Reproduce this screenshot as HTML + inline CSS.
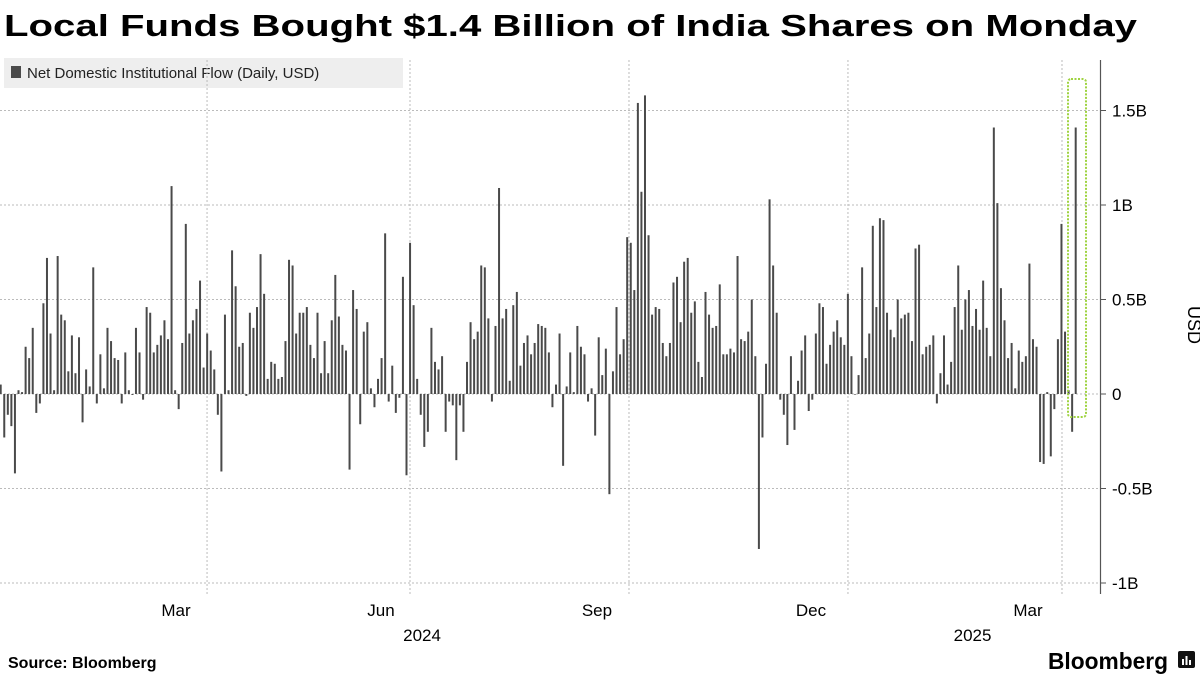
<!DOCTYPE html>
<html><head><meta charset="utf-8"><style>
body{margin:0;background:#fff;width:1200px;height:675px;overflow:hidden;font-family:"Liberation Sans",sans-serif}
svg{position:absolute;left:0;top:0}
</style></head><body>
<svg id="chart" width="1200" height="675">
<text x="4" y="36" font-size="31" font-weight="bold" fill="#000" textLength="1133" lengthAdjust="spacingAndGlyphs">Local Funds Bought $1.4 Billion of India Shares on Monday</text>
<g>
<rect x="4" y="58" width="399" height="30" fill="#eeeeee"/>
<rect x="11" y="66" width="10" height="12" fill="#4a4a4a"/>
<text x="27" y="78" font-size="15" fill="#222">Net Domestic Institutional Flow (Daily, USD)</text>
</g>
<g id="grid"></g>
<g id="bars"></g>
<g id="axis"></g>
<rect x="1068" y="79" width="18" height="338" rx="3" fill="none" stroke="#9fd341" stroke-width="2" stroke-dasharray="2,1.5"/>
<text x="1188" y="325" font-size="18" fill="#000" text-anchor="middle" transform="rotate(90 1188 325)">USD</text>
<text x="8" y="668" font-size="16" font-weight="bold" fill="#000">Source: Bloomberg</text>
<text x="1048" y="669" font-size="23" font-weight="bold" fill="#000" textLength="120" lengthAdjust="spacingAndGlyphs">Bloomberg</text>
<g><rect x="1178" y="651" width="17" height="17" rx="2" fill="#111"/><rect x="1182" y="659" width="2" height="6" fill="#fff"/><rect x="1185.5" y="656" width="2" height="9" fill="#fff"/><rect x="1189" y="660" width="2" height="5" fill="#fff"/></g>
</svg>
<script>
const values=[0.05,-0.23,-0.11,-0.17,-0.42,0.02,0.01,0.25,0.19,0.35,-0.10,-0.05,0.48,0.72,0.32,0.02,0.73,0.42,0.39,0.12,0.31,0.11,0.30,-0.15,0.13,0.04,0.67,-0.05,0.21,0.03,0.35,0.28,0.19,0.18,-0.05,0.22,0.02,-0.005,0.35,0.22,-0.03,0.46,0.43,0.22,0.26,0.31,0.39,0.29,1.10,0.02,-0.08,
0.27,0.90,0.32,0.39,0.45,0.60,0.14,0.32,0.23,0.13,-0.11,-0.41,0.42,0.02,0.76,0.57,0.25,0.27,-0.01,0.43,0.35,0.46,0.74,0.53,0.08,0.17,0.16,0.08,0.09,0.28,0.71,0.68,0.32,0.43,0.43,0.46,0.26,0.19,0.43,0.11,0.28,0.11,0.39,0.63,0.41,0.26,0.23,-0.40,0.55,
0.45,-0.16,0.33,0.38,0.03,-0.07,0.08,0.19,0.85,-0.04,0.15,-0.10,-0.02,0.62,-0.43,0.80,0.47,0.08,-0.11,-0.28,-0.20,0.35,0.17,0.13,0.20,-0.20,-0.04,-0.06,-0.35,-0.06,-0.20,0.17,0.38,0.29,0.33,0.68,0.67,0.40,-0.04,0.36,1.09,0.40,0.45,0.07,0.47,0.54,0.15,0.27,0.31,
0.21,0.27,0.37,0.36,0.35,0.22,-0.07,0.05,0.32,-0.38,0.04,0.22,0.01,0.36,0.25,0.21,-0.04,0.03,-0.22,0.30,0.10,0.24,-0.53,0.12,0.46,0.21,0.29,0.83,0.80,0.55,1.54,1.07,1.58,0.84,0.42,0.46,0.45,0.27,0.20,0.27,0.59,0.62,0.38,0.70,0.72,0.43,0.49,0.17,0.09,
0.54,0.42,0.35,0.36,0.58,0.21,0.21,0.24,0.22,0.73,0.29,0.28,0.33,0.50,0.20,-0.82,-0.23,0.16,1.03,0.68,0.43,-0.03,-0.11,-0.27,0.20,-0.19,0.07,0.23,0.31,-0.09,-0.03,0.32,0.48,0.46,0.16,0.26,0.33,0.39,0.30,0.26,0.53,0.20,0.00,0.10,0.67,0.19,0.32,0.89,0.46,0.93,
0.92,0.43,0.34,0.30,0.50,0.40,0.42,0.43,0.28,0.77,0.79,0.21,0.25,0.26,0.31,-0.05,0.11,0.31,0.05,0.17,0.46,0.68,0.34,0.50,0.55,0.36,0.45,0.34,0.60,0.35,0.20,1.41,1.01,0.56,0.39,0.19,0.27,0.03,0.23,0.17,0.20,0.69,0.29,0.25,-0.36,-0.37,0.01,-0.33,-0.08,0.29,0.90,0.33,0.02,-0.20,1.41];
const yTicks=[1.5,1,0.5,0,-0.5,-1];
const yTickLabels=["1.5B","1B","0.5B","0","-0.5B","-1B"];
const monthLabels=["Mar","Jun","Sep","Dec","Mar"];
const monthPos=[0.1926,0.3814,0.5851,0.7888,0.9879];
const monthLabelPos=[0.1637,0.3544,0.5553,0.7544,0.9563];
const yearLabels=["2024","2025"];
const yearPos=[0.3926,0.9047];
const NS="http://www.w3.org/2000/svg";
const X0=0.7,X1=1075.7,PW=1075;
function y(v){return 394-v*189;}
function xi(i){return X0+(X1-X0)*i/(values.length-1);}
function xf(f){return f*PW;}
function mk(t,a,p){const e=document.createElementNS(NS,t);for(const k in a)e.setAttribute(k,a[k]);(p||document.getElementById('chart')).appendChild(e);return e;}
const grid=document.getElementById('grid'),bars=document.getElementById('bars'),axis=document.getElementById('axis');
yTicks.forEach((t,i)=>{
const l=mk('line',{x1:0,x2:1100,y1:y(t),y2:y(t),stroke:'#bbb','stroke-width':1,'stroke-dasharray':'2,2'},grid);


const tk=mk('line',{x1:1100,x2:1106,y1:y(t),y2:y(t),stroke:'#555','stroke-width':1},axis);


const tx=mk('text',{x:1112,y:y(t)+6,'font-size':17,fill:'#000'},axis);
tx.textContent=yTickLabels[i];


});
monthPos.forEach((f,i)=>{
const l=mk('line',{x1:xf(f),x2:xf(f),y1:60,y2:594,stroke:'#bbb','stroke-width':1,'stroke-dasharray':'2,2'},grid);


const tx=mk('text',{x:xf(monthLabelPos[i]),y:616,'font-size':17,fill:'#000','text-anchor':'middle'},axis);
tx.textContent=monthLabels[i];


});
yearPos.forEach((f,i)=>{
const tx=mk('text',{x:xf(f),y:641,'font-size':17,fill:'#000','text-anchor':'middle'},axis);
tx.textContent=yearLabels[i];


});
const ax=mk('line',{x1:1100.5,x2:1100.5,y1:60,y2:594,stroke:'#555','stroke-width':1.2},axis);


values.forEach((v,i)=>{
const top=Math.min(y(v),y(0)),h=Math.max(Math.abs(y(v)-y(0)),0.6);
const r=mk('rect',{x:xi(i)-1,y:top,width:2,height:h,fill:'#4a4a4a'},bars);


});
</script>
</body></html>
